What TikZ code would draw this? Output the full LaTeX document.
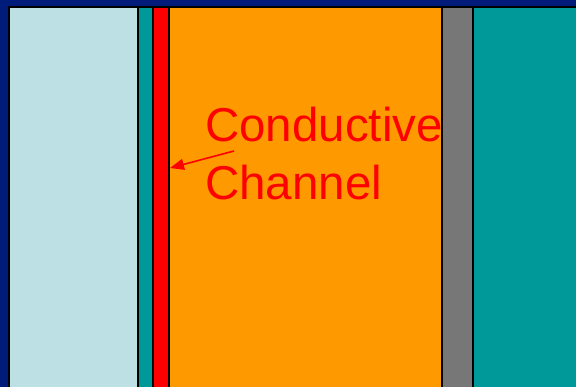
\documentclass[tikz,border=0pt]{standalone}
\usepackage{fontspec}
\setmainfont{Liberation Sans}
\usetikzlibrary{arrows.meta}
\definecolor{navybg}{RGB}{0,28,122}
\definecolor{lightblue}{RGB}{188,224,228}
\definecolor{tealc}{RGB}{0,153,153}
\definecolor{orangec}{RGB}{255,153,0}
\definecolor{grayc}{RGB}{119,119,119}
\tikzset{
  layer/.style={draw=black, line width=1.3pt},
  label/.style={text=red, font=\fontsize{47.5}{58}\selectfont, align=left, inner sep=0pt},
  pointer/.style={draw=red, line width=1.6pt, -{Triangle[length=14pt,width=11pt]}}
}
\begin{document}
\begin{tikzpicture}[x=1pt,y=-1pt]
\useasboundingbox (0,0) rectangle (576,387);
\fill[navybg] (0,0) rectangle (576,387);
\filldraw[layer, fill=lightblue] (9,7) rectangle (138,395);
\filldraw[layer, fill=tealc] (138,7) rectangle (153,395);
\filldraw[layer, fill=red] (153,7) rectangle (169,395);
\filldraw[layer, fill=orangec] (169,7) rectangle (442,395);
\node[label, anchor=base west] (txt) at (205,200) {Conductive\\Channel};
\filldraw[layer, fill=grayc] (442,7) rectangle (473,395);
\filldraw[layer, fill=tealc] (473,7) rectangle (590,395);
\coordinate (tail) at (234,151);
\coordinate (tip) at (170,168);
\draw[pointer] (tail) -- (tip);
\end{tikzpicture}
\end{document}
